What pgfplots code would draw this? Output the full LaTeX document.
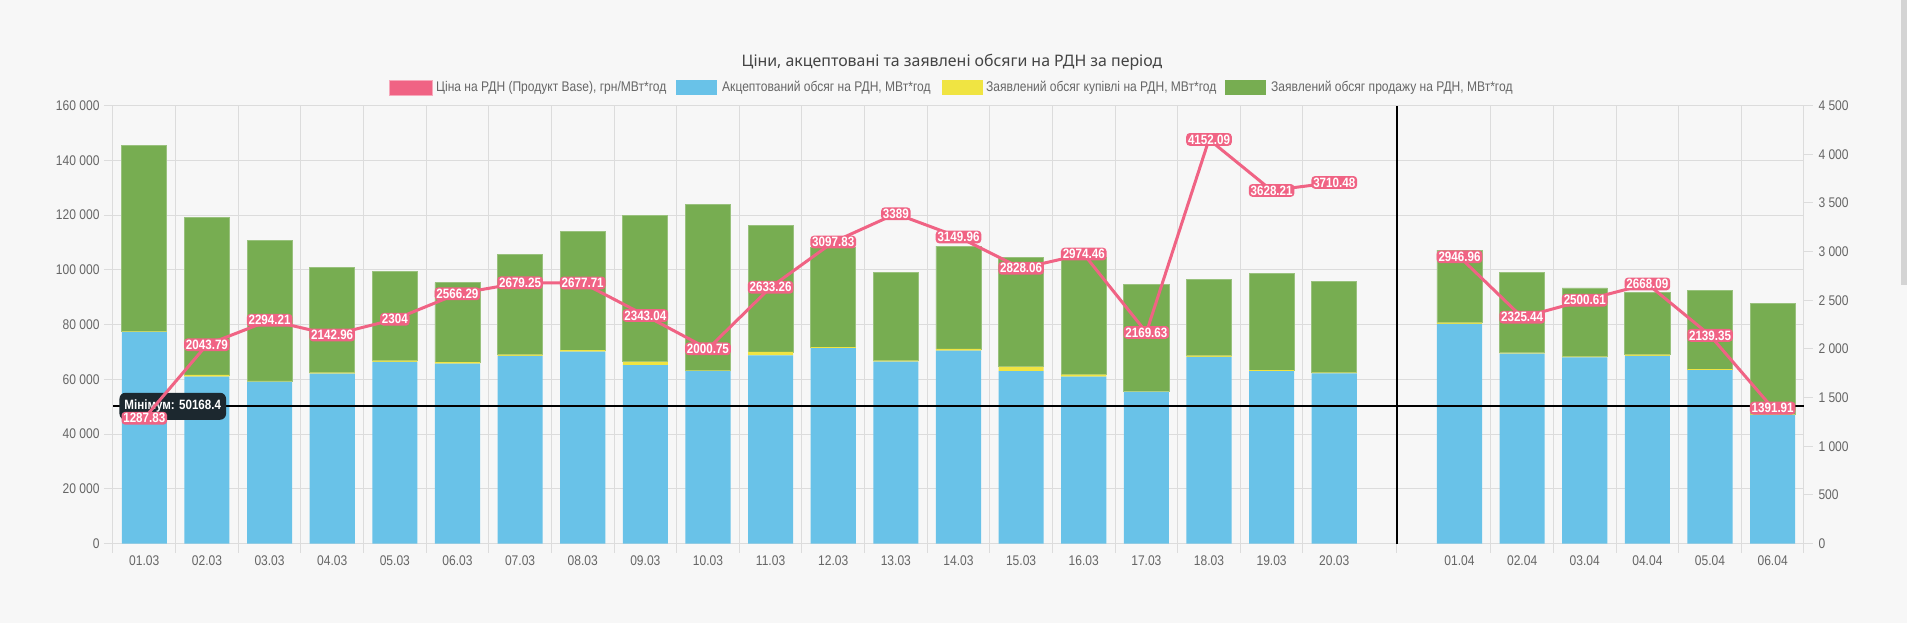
\documentclass[border=0pt]{standalone}
\usepackage{fontspec}
\setmainfont{Liberation Sans}
\newfontfamily\condfont[FakeStretch=0.86]{Liberation Sans}
\newfontfamily\titlefont{Noto Sans}
\usepackage{pgfplots}
\pgfplotsset{compat=1.18}
\usepackage{pgfplotstable}
\definecolor{bgc}{HTML}{F7F7F7}
\definecolor{gridc}{HTML}{DCDCDC}
\definecolor{tickc}{HTML}{666666}
\definecolor{bluec}{HTML}{69C2E8}
\definecolor{greenc}{HTML}{77AD51}
\definecolor{yellowc}{HTML}{F0E442}
\definecolor{pinkc}{HTML}{F06384}
\definecolor{mindark}{HTML}{1C282F}
\definecolor{titlec}{HTML}{444444}

\pgfplotstableread{
x blue yellow green
0 77300 200 67800
1 61000 600 57500
2 59200 200 51400
3 62100 400 38400
4 66400 400 32500
5 65700 600 29000
6 68600 400 36700
7 70100 600 43300
8 65200 1200 53600
9 63000 200 60800
10 68800 1200 46100
11 71400 400 36400
12 66500 300 32200
13 70500 600 37600
14 63000 1600 40000
15 61000 700 42800
16 55500 200 39100
17 68200 500 27900
18 63000 400 35300
19 62200 300 33400
21 80300 400 26500
22 69400 300 29500
23 68000 300 25100
24 68600 400 22800
25 63400 300 28700
26 47000 200 40400
}\bars

\pgfplotstableread{
x price label
0 1287.83 1287.83
1 2043.79 2043.79
2 2294.21 2294.21
3 2142.96 2142.96
4 2304 2304
5 2566.29 2566.29
6 2679.25 2679.25
7 2677.71 2677.71
8 2343.04 2343.04
9 2000.75 2000.75
10 2633.26 2633.26
11 3097.83 3097.83
12 3389 3389
13 3149.96 3149.96
14 2828.06 2828.06
15 2974.46 2974.46
16 2169.63 2169.63
17 4152.09 4152.09
18 3628.21 3628.21
19 3710.48 3710.48
}\priceA

\pgfplotstableread{
x price label
21 2946.96 2946.96
22 2325.44 2325.44
23 2500.61 2500.61
24 2668.09 2668.09
25 2139.35 2139.35
26 1391.91 1391.91
}\priceB

\begin{document}
\begin{tikzpicture}
\fill[bgc] (0pt,0pt) rectangle (1907pt,623pt);
\fill[black!17] (1901pt,338pt) rectangle (1907pt,623pt);

% title
\node[font=\titlefont\fontsize{15.9}{16}\selectfont, text=titlec] at (952pt,561pt) {Ціни, акцептовані та заявлені обсяги на РДН за період};

% legend
\begin{scope}[font=\condfont\fontsize{14}{14}\selectfont, text=tickc]
\fill[pinkc] (389pt,528pt) rectangle (432pt,543pt);
\draw[pinkc!55!white, line width=0.8pt] (389pt,528pt) rectangle (432pt,543pt);
\node[anchor=west, inner sep=0pt] at (436pt,535.5pt) {Ціна на РДН (Продукт Base), грн/МВт*год};
\fill[bluec] (676pt,528pt) rectangle (717pt,543pt);
\node[anchor=west, inner sep=0pt] at (722pt,535.5pt) {Акцептований обсяг на РДН, МВт*год};
\fill[yellowc] (942pt,528pt) rectangle (983pt,543pt);
\node[anchor=west, inner sep=0pt] at (986pt,535.5pt) {Заявлений обсяг купівлі на РДН, МВт*год};
\fill[greenc] (1225pt,528pt) rectangle (1266pt,543pt);
\node[anchor=west, inner sep=0pt] at (1271pt,535.5pt) {Заявлений обсяг продажу на РДН, МВт*год};
\end{scope}

\begin{axis}[
  at={(113pt,79.4pt)}, anchor=south west,
  width=1691pt, height=438pt, scale only axis,
  xmin=-0.5, xmax=26.5, ymin=0, ymax=160000,
  ybar stacked, bar width=45.1pt,
  scaled y ticks=false,
  axis line style={draw=gridc, line width=1pt},
  xtick={-0.5,0.5,1.5,2.5,3.5,4.5,5.5,6.5,7.5,8.5,9.5,10.5,11.5,12.5,13.5,14.5,15.5,16.5,17.5,18.5,20,21.5,22.5,23.5,24.5,25.5,26.5},
  xticklabels={},
  extra x ticks={0,1,2,3,4,5,6,7,8,9,10,11,12,13,14,15,16,17,18,19,21,22,23,24,25,26},
  extra x tick labels={01.03,02.03,03.03,04.03,05.03,06.03,07.03,08.03,09.03,10.03,11.03,12.03,13.03,14.03,15.03,16.03,17.03,18.03,19.03,20.03,01.04,02.04,03.04,04.04,05.04,06.04},
  extra x tick style={grid=none, major tick length=0pt, tick style={draw=none}},
  ytick={0,20000,40000,60000,80000,100000,120000,140000,160000},
  yticklabels={0,20 000,40 000,60 000,80 000,100 000,120 000,140 000,160 000},
  xmajorgrids, ymajorgrids,
  grid style={gridc, line width=1pt},
  major tick length=9pt, tick align=outside,
  tick style={gridc, line width=1pt},
  tick pos=left,
  xticklabel style={font=\condfont\fontsize{14}{14}\selectfont, text=tickc, yshift=-9pt},
  yticklabel style={font=\condfont\fontsize{14}{14}\selectfont, text=tickc, xshift=-1pt},
]
\addplot[fill=bluec, draw=none] table[x=x,y=blue]{\bars};
\addplot[fill=yellowc, draw=none] table[x=x,y=yellow]{\bars};
\addplot[fill=greenc, draw=greenc!75!white, line width=0.8pt] table[x=x,y=green]{\bars};
\end{axis}

\begin{axis}[
  at={(113pt,79.4pt)}, anchor=south west,
  width=1691pt, height=438pt, scale only axis,
  xmin=-0.5, xmax=26.5, ymin=0, ymax=4500,
  axis x line=none, axis y line*=right,
  y axis line style={draw=gridc, line width=1pt},
  ytick={0,500,1000,1500,2000,2500,3000,3500,4000,4500},
  yticklabels={0,500,1 000,1 500,2 000,2 500,3 000,3 500,4 000,4 500},
  major tick length=9pt, tick align=outside,
  tick style={gridc, line width=1pt},
  yticklabel style={font=\condfont\fontsize{14}{14}\selectfont, text=tickc, xshift=2pt},
  clip=false,
  nodes near coords={\pgfplotspointmeta},
  point meta=explicit symbolic,
  every node near coord/.append style={anchor=center, fill=pinkc, rounded corners=3.5pt, text=white, font=\condfont\bfseries\fontsize{13.5}{13.5}\selectfont, inner xsep=1.8pt, inner ysep=1.6pt},
]
% reference lines (volume 50168.4 on the left axis = 1410.99 on this axis)
\draw[black, line width=2pt] (axis cs:20,0) -- (axis cs:20,4500);
\draw[black, line width=2pt] (axis cs:-0.5,1410.99) -- (axis cs:26.5,1410.99);
\node[fill=mindark, rounded corners=6pt, text=white, font=\condfont\bfseries\fontsize{13.5}{13.5}\selectfont, anchor=west, inner xsep=5pt, minimum height=27pt] at (axis cs:-0.40,1410.99) {Мінімум: 50168.4};
\addplot[pinkc, line width=3pt, mark=none] table[x=x,y=price,meta=label]{\priceA};
\addplot[pinkc, line width=3pt, mark=none] table[x=x,y=price,meta=label]{\priceB};
\end{axis}
\pgfresetboundingbox
\useasboundingbox (0pt,0pt) rectangle (1907pt,623pt);
\end{tikzpicture}
\end{document}
